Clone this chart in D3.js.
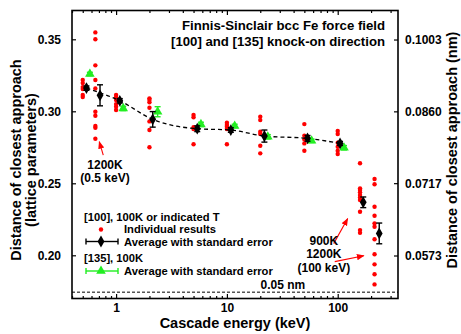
<!DOCTYPE html>
<html>
<head>
<meta charset="utf-8">
<script src="https://cdn.jsdelivr.net/npm/d3@7"></script>
<style>
body { margin: 0; background: #fff; }
svg text { font-family: "Liberation Sans", Arial, sans-serif; font-weight: bold; fill: #000; }
</style>
</head>
<body>
<div id="vis-container"></div>
<script>
const latticeNm = 0.2867;
const xTicks = [1, 10, 100];
const yTicks = [0.20, 0.25, 0.30, 0.35];
const nmTicks = [0.0573, 0.0717, 0.0860, 0.1003];

// individual cascades, [100] knock-on (0.65 = 1200K at 0.5 keV, 159 = 900K, 215 = 1200K at 100 keV)
const indivEnergy = [0.5, 0.65, 1, 2, 5, 10, 20, 50, 100, 159, 215];
const indivValues = [
    [0.3217, 0.3196, 0.3168, 0.3155, 0.3113, 0.3099],
    [0.3548, 0.3500, 0.3319, 0.3217, 0.3159, 0.2997, 0.2969, 0.2898, 0.2886, 0.2809],
    [0.3113, 0.3097, 0.3078, 0.3050, 0.3032, 0.3009],
    [0.3090, 0.3078, 0.3062, 0.3025, 0.2930, 0.2870, 0.2750],
    [0.2974, 0.2958, 0.2889, 0.2877, 0.2771],
    [0.2920, 0.2905, 0.2893, 0.2877, 0.2771],
    [0.2962, 0.2939, 0.2858, 0.2842, 0.2761, 0.2708],
    [0.2911, 0.2830, 0.2805, 0.2777, 0.2726],
    [0.2863, 0.2842, 0.2782, 0.2754, 0.2726, 0.2703],
    [0.2639, 0.2465, 0.2453, 0.2437, 0.2418, 0.2402, 0.2384, 0.2302, 0.2175, 0.2156],
    [0.2530, 0.2493, 0.2337, 0.2275, 0.2222, 0.2198, 0.2111, 0.2007, 0.1937, 0.1868, 0.1798]
];

// averages, [100] at 100K
const avg100Energy = [0.54, 1.08, 2.14, 5.4, 10.85, 21.8, 53.4, 105];
const avg100Value = [0.3161, 0.3073, 0.2944, 0.2879, 0.2870, 0.2828, 0.2812, 0.2777];
const avg100Err = [0.0015, 0.0015, 0.0054, 0.0020, 0.0016, 0.0042, 0.0020, 0.0014];

// averages, [100] at indicated T
const avgHotEnergy = [0.716, 170, 237];
const avgHotValue = [0.3111, 0.2368, 0.2152];
const avgHotErr = [0.0073, 0.0037, 0.0072];

// averages, [135] at 100K
const avg135Energy = [0.58, 1.16, 2.37, 5.83, 11.75, 23.4, 58.1, 114];
const avg135Value = [0.3259, 0.3020, 0.2997, 0.2909, 0.2898, 0.2823, 0.2795, 0.2747];
const avg135Err = [0.0012, 0.0015, 0.0035, 0.0015, 0.0012, 0.0015, 0.0012, 0.0015];

const plotL = 72, plotR = 398, plotT = 10.5, plotB = 298.5;
const green = "#22ee22", red = "#ff0000";

let svg = d3.select("#vis-container")
    .append("svg")
    .attr("width", 461)
    .attr("height", 334);

let x = d3.scaleLog().domain([0.4, 350]).range([plotL, plotR]);
let y = d3.scaleLinear().domain([0.17, 0.37]).range([plotB, plotT]);
let yNm = d3.scaleLinear().domain(y.domain().map(d => d * latticeNm)).range([plotB, plotT]);

let minorTicks = x.ticks().filter(d => xTicks.indexOf(d) < 0);

// axes
svg.append("g").attr("transform", `translate(0,${plotB})`)
    .call(d3.axisBottom(x).tickValues(xTicks).tickSize(-4.5).tickSizeOuter(0).tickPadding(5).tickFormat(d3.format("d")));
svg.append("g").attr("transform", `translate(0,${plotB})`)
    .call(d3.axisBottom(x).tickValues(minorTicks).tickSize(-2.5).tickSizeOuter(0).tickFormat(""));
svg.append("g").attr("transform", `translate(0,${plotT})`)
    .call(d3.axisTop(x).tickValues(xTicks).tickSize(-4.5).tickSizeOuter(0).tickFormat(""));
svg.append("g").attr("transform", `translate(0,${plotT})`)
    .call(d3.axisTop(x).tickValues(minorTicks).tickSize(-2.5).tickSizeOuter(0).tickFormat(""));
svg.append("g").attr("transform", `translate(${plotL},0)`)
    .call(d3.axisLeft(y).tickValues(yTicks).tickSize(-4).tickSizeOuter(0).tickPadding(11).tickFormat(d3.format(".2f")));
svg.append("g").attr("transform", `translate(${plotR},0)`)
    .call(d3.axisRight(yNm).tickValues(nmTicks).tickSize(-4).tickSizeOuter(0).tickPadding(7).tickFormat(d3.format(".4f")));

svg.selectAll(".domain").remove();
svg.selectAll(".tick line").attr("stroke", "#000").attr("stroke-width", 1.2);
svg.selectAll(".tick text").attr("font-size", 12).attr("fill", "#000");

svg.append("rect")
    .attr("x", plotL).attr("y", plotT)
    .attr("width", plotR - plotL).attr("height", plotB - plotT)
    .attr("fill", "none").attr("stroke", "#000").attr("stroke-width", 1.6);

// 0.05 nm reference line
svg.append("line")
    .attr("x1", plotL).attr("x2", plotR)
    .attr("y1", yNm(0.05)).attr("y2", yNm(0.05))
    .attr("stroke", "#000").attr("stroke-width", 1).attr("stroke-dasharray", "3,2");
svg.append("text")
    .attr("x", x(32)).attr("y", yNm(0.05) - 3)
    .attr("text-anchor", "middle").attr("font-size", 12)
    .text("0.05 nm");

// individual results
let indiv = [];
indivEnergy.forEach((e, i) => indivValues[i].forEach(v => indiv.push({e: e, v: v})));
svg.append("g").selectAll("circle")
    .data(indiv)
    .enter().append("circle")
    .attr("cx", d => x(d.e))
    .attr("cy", d => y(d.v))
    .attr("r", 2.2)
    .attr("fill", red);

// dashed trend through the 100K [100] averages
svg.append("path")
    .datum(avg100Energy.map((e, i) => [e, avg100Value[i]]))
    .attr("fill", "none")
    .attr("stroke", "#000")
    .attr("stroke-width", 1.3)
    .attr("stroke-dasharray", "4,3")
    .attr("d", d3.line().x(d => x(d[0])).y(d => y(d[1])).curve(d3.curveMonotoneX));

let errorBars = function(energy, value, err, color, symbol){
    let pts = energy.map((e, i) => ({e: e, v: value[i], s: err[i]}));
    let g = svg.append("g").selectAll("g")
        .data(pts)
        .enter().append("g")
        .attr("transform", d => `translate(${x(d.e)},0)`);
    g.append("line")
        .attr("y1", d => y(d.v - d.s)).attr("y2", d => y(d.v + d.s))
        .attr("stroke", color).attr("stroke-width", 1.4);
    [-1, 1].forEach(k => {
        g.append("line")
            .attr("x1", -3).attr("x2", 3)
            .attr("y1", d => y(d.v + k * d.s)).attr("y2", d => y(d.v + k * d.s))
            .attr("stroke", color).attr("stroke-width", 1.4);
    });
    g.append("path")
        .attr("transform", d => `translate(0,${y(d.v)})`)
        .attr("d", d3.symbol().type(symbol).size(40))
        .attr("fill", color);
}

errorBars(avg135Energy, avg135Value, avg135Err, green, d3.symbolTriangle);
errorBars(avg100Energy, avg100Value, avg100Err, "#000", d3.symbolDiamond);
errorBars(avgHotEnergy, avgHotValue, avgHotErr, "#000", d3.symbolDiamond);

// annotations
svg.append("defs").append("marker")
    .attr("id", "head")
    .attr("viewBox", "0 0 10 10")
    .attr("refX", 9).attr("refY", 5)
    .attr("markerWidth", 7).attr("markerHeight", 7)
    .attr("orient", "auto")
    .append("path").attr("d", "M0,1L10,5L0,9z").attr("fill", red);

const arrows = [
    [[0.766, 0.2696], [0.705, 0.2789]],
    [[92, 0.2081], [123, 0.2255]],
    [[94, 0.1956], [172, 0.1997]]
];
svg.append("g").selectAll("line")
    .data(arrows)
    .enter().append("line")
    .attr("x1", d => x(d[0][0])).attr("y1", d => y(d[0][1]))
    .attr("x2", d => x(d[1][0])).attr("y2", d => y(d[1][1]))
    .attr("stroke", red).attr("stroke-width", 1.1)
    .attr("marker-end", "url(#head)");

const notes = [
    {e: 0.794, v: 0.2599, dy: 12.5, lines: ["1200K", "(0.5 keV)"]},
    {e: 75, v: 0.2074, dy: 13.8, lines: ["900K", "1200K", "(100 keV)"]}
];
notes.forEach(n => {
    svg.append("text")
        .attr("text-anchor", "middle").attr("font-size", 12)
        .selectAll("tspan")
        .data(n.lines)
        .enter().append("tspan")
        .attr("x", x(n.e))
        .attr("y", (d, i) => y(n.v) + i * n.dy)
        .text(d => d);
});

// title
svg.append("text")
    .attr("text-anchor", "end").attr("font-size", 13.2)
    .selectAll("tspan")
    .data(["Finnis-Sinclair bcc Fe force field", "[100] and [135] knock-on direction"])
    .enter().append("tspan")
    .attr("x", 385)
    .attr("y", (d, i) => 30 + i * 15.5)
    .text(d => d);

// legend
let legend = svg.append("g").attr("font-size", 11.2);
legend.append("text").attr("x", 84).attr("y", 220.5).text("[100], 100K or indicated T");
legend.append("circle").attr("cx", 101).attr("cy", 229.5).attr("r", 2.2).attr("fill", red);
legend.append("text").attr("x", 124).attr("y", 233).text("Individual results");
legend.append("text").attr("x", 84).attr("y", 262).text("[135], 100K");

[[241.5, "#000", d3.symbolDiamond, 245.5], [271, green, d3.symbolTriangle, 275]].forEach(l => {
    legend.append("line").attr("x1", 86).attr("x2", 118).attr("y1", l[0]).attr("y2", l[0])
        .attr("stroke", l[1]).attr("stroke-width", 1.4);
    [86, 118].forEach(cx => legend.append("line")
        .attr("x1", cx).attr("x2", cx).attr("y1", l[0] - 3).attr("y2", l[0] + 3)
        .attr("stroke", l[1]).attr("stroke-width", 1.4));
    legend.append("path").attr("transform", `translate(101,${l[0]})`)
        .attr("d", d3.symbol().type(l[2]).size(40)).attr("fill", l[1]);
    legend.append("text").attr("x", 124).attr("y", l[3]).text("Average with standard error");
});

// axis titles
svg.append("text")
    .attr("x", (plotL + plotR) / 2).attr("y", 328)
    .attr("text-anchor", "middle").attr("font-size", 14.5)
    .text("Cascade energy (keV)");

svg.append("text")
    .attr("transform", "translate(21,160) rotate(-90)")
    .attr("text-anchor", "middle").attr("font-size", 14.5)
    .text("Distance of closest approach");
svg.append("text")
    .attr("transform", "translate(36,160) rotate(-90)")
    .attr("text-anchor", "middle").attr("font-size", 14.5)
    .text("(lattice parameters)");
svg.append("text")
    .attr("transform", "translate(457,150) rotate(-90)")
    .attr("text-anchor", "middle").attr("font-size", 14.5)
    .text("Distance of closest approach (nm)");
</script>
</body>
</html>
